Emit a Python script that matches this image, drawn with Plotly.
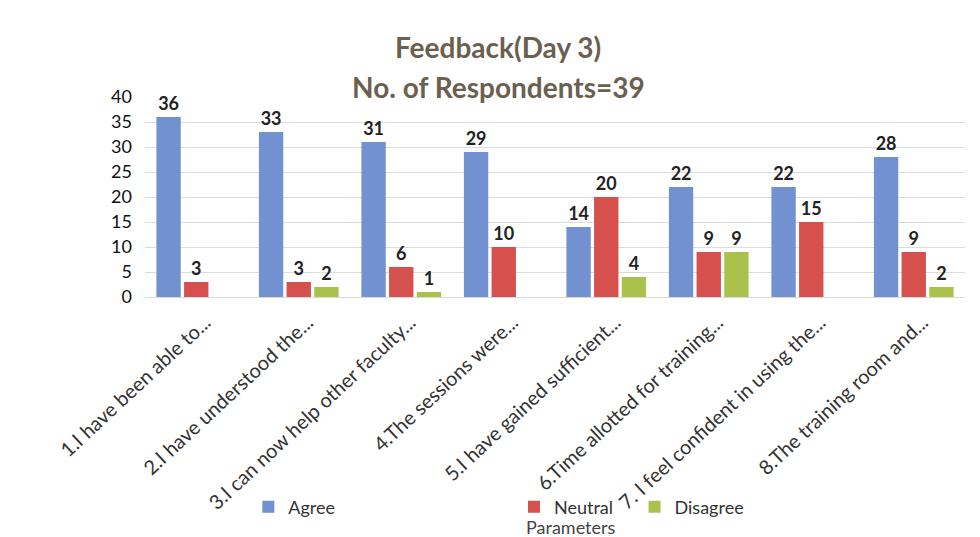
import plotly.graph_objects as go

categories = [
    "1.I have been able to...",
    "2.I have understood the...",
    "3.I can now help other faculty...",
    "4.The sessions were...",
    "5.I have gained sufficient...",
    "6.Time allotted for training...",
    "7. I feel confident in using the...",
    "8.The training room and...",
]
agree = [36, 33, 31, 29, 14, 22, 22, 28]
neutral = [3, 3, 6, 10, 20, 9, 15, 9]
disagree = [0, 2, 1, 0, 4, 9, 0, 2]
y_ticks = [0, 5, 10, 15, 20, 25, 30, 35, 40]

FONT = "Lato, 'Open Sans', sans-serif"

def labels(vals):
    return [f"<b>{v}</b>" if v else "" for v in vals]

series = [
    ("Agree", agree, "#7191d1", "legend"),
    ("Neutral", neutral, "#d6504d", "legend2"),
    ("Disagree", disagree, "#aac24b", "legend3"),
]

fig = go.Figure()
for name, vals, color, lg in series:
    fig.add_trace(go.Bar(
        x=categories, y=vals, name=name,
        marker=dict(color=color, line=dict(width=0)),
        text=labels(vals), textposition="outside",
        textfont=dict(family=FONT, size=18, color="#222222"),
        cliponaxis=False, legend=lg,
    ))

legend_common = dict(orientation="h", y=-1.05, xanchor="left", yanchor="middle",
                     itemwidth=30, bgcolor="rgba(0,0,0,0)",
                     font=dict(family=FONT, size=18, color="#333333"))

fig.update_layout(
    width=980, height=537,
    paper_bgcolor="white", plot_bgcolor="white",
    margin=dict(l=137, r=23, t=89, b=248),
    barmode="group", bargap=0.19, bargroupgap=0.12,
    font=dict(family=FONT, color="#222222"),
    showlegend=True,
    legend=dict(x=0.126, **legend_common),
    legend2=dict(x=0.45, **legend_common),
    legend3=dict(x=0.597, **legend_common),
    xaxis=dict(tickangle=-43, tickfont=dict(family=FONT, size=20, color="#333333"),
               showline=True, linecolor="#d9d9d9", ticks="", automargin=False,
               ticklabelshift=9, ticklabelstandoff=5),
    yaxis=dict(range=[0, 40], tickvals=y_ticks, showgrid=True, gridcolor="#dcdcdc",
               zeroline=False, tickfont=dict(family=FONT, size=18, color="#111111"),
               ticks="", ticklabelstandoff=12, automargin=False),
    annotations=[
        dict(text="<b>Feedback(Day 3)</b>", xref="paper", yref="paper", x=0.4305, y=1.0,
             yanchor="middle", yshift=50, showarrow=False,
             font=dict(family=FONT, size=28, color="#6b5f4f")),
        dict(text="<b>No. of Respondents=39</b>", xref="paper", yref="paper", x=0.4305, y=1.0,
             yanchor="middle", yshift=10, showarrow=False,
             font=dict(family=FONT, size=28, color="#6b5f4f")),
        dict(text="Parameters", xref="paper", yref="paper", x=0.5195, y=-1.15,
             yanchor="middle", showarrow=False, font=dict(family=FONT, size=18, color="#444444")),
    ],
)

fig.write_html("out.html")
